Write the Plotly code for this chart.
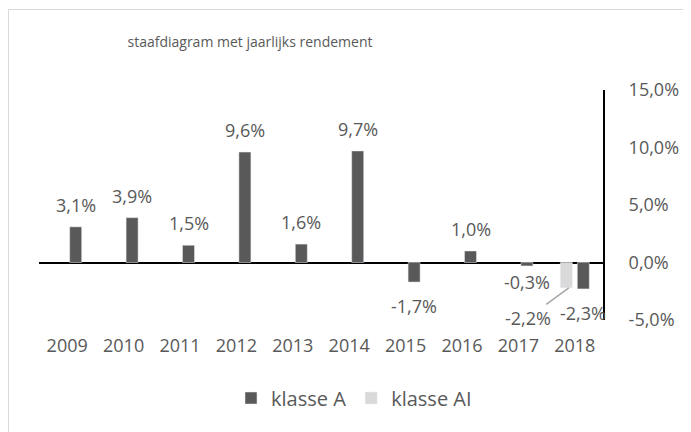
import plotly.graph_objects as go

years = ["2009", "2010", "2011", "2012", "2013", "2014", "2015", "2016", "2017", "2018"]
klasse_a = [3.1, 3.9, 1.5, 9.6, 1.6, 9.7, -1.7, 1.0, -0.3, -2.3]
klasse_ai = [None, None, None, None, None, None, None, None, None, -2.2]
y_tickvals = [-5, 0, 5, 10, 15]
y_ticktext = ["-5,0%", "0,0%", "5,0%", "10,0%", "15,0%"]

DARK = "#595959"
LIGHT = "#d9d9d9"
TXT = "#595959"
FONT = "Open Sans"

def fmt(v):
    return f"{v:.1f}%".replace(".", ",")

fig = go.Figure()
# klasse AI first so that it takes the left slot in each group
fig.add_trace(go.Bar(name="klasse AI", x=years, y=klasse_ai, marker_color=LIGHT,
                     hoverinfo="skip"))
fig.add_trace(go.Bar(name="klasse A", x=years, y=klasse_a, marker_color=DARK,
                     hoverinfo="skip"))

# data labels for klasse A (x given as category index)
label_nudge = {"2017": 8}
for i, (yr, v) in enumerate(zip(years, klasse_a)):
    shift = 22 if v >= 0 else -24
    shift += label_nudge.get(yr, 0)
    fig.add_annotation(x=i, y=v, text=fmt(v), showarrow=False, xshift=8.5,
                       yshift=shift, font=dict(family=FONT, size=18, color=TXT))

# data label for klasse AI with leader line
for i, v in enumerate(klasse_ai):
    if v is None:
        continue
    fig.add_annotation(x=i, y=v, text=fmt(v), showarrow=True, arrowhead=0,
                       arrowwidth=1.5, arrowcolor="#a6a6a6", xshift=-6,
                       ax=-41, ay=30, font=dict(family=FONT, size=18, color=TXT))

# page body has an 8px default margin: work in picture pixels minus OFF
OFF = 8
W, H = 691, 432
pw, ph = 564, 230
L = 39 - OFF
T = 90 - OFF
R = W - L - pw
B = H - T - ph

def px_x(x):  # picture x -> paper
    return (x - OFF - L) / pw

def px_y(y):  # picture y -> paper
    return (T + ph - (y - OFF)) / ph

# outer chart border (light gray)
fig.add_shape(type="rect", xref="paper", yref="paper",
              x0=px_x(OFF + 0.5), x1=px_x(W + 20), y0=px_y(H + 20), y1=px_y(9.5),
              line=dict(color=LIGHT, width=1), fillcolor="rgba(0,0,0,0)", layer="below")

fig.update_layout(
    width=W, height=H,
    margin=dict(l=L, r=R, t=T, b=B, autoexpand=False),
    paper_bgcolor="white", plot_bgcolor="white",
    barmode="group", bargap=0.397, bargroupgap=0.294,
    title=dict(text="staafdiagram met jaarlijks rendement", x=(250 - OFF) / W,
               xanchor="center", y=1 - (42 - OFF) / H, yanchor="middle",
               font=dict(family=FONT, size=14, color=TXT)),
    showlegend=True,
    legend=dict(orientation="h", x=px_x(231), xanchor="left",
                y=px_y(398), yanchor="middle",
                font=dict(family=FONT, size=20, color=TXT), traceorder="reversed"),
    font=dict(family=FONT, color=TXT),
)
fig.update_xaxes(type="category", range=[-0.5, len(years) - 0.5], showline=False,
                 showgrid=False, ticks="", zeroline=False,
                 tickfont=dict(family=FONT, size=18, color=TXT), ticklabelstandoff=13)
fig.update_yaxes(range=[-5, 15], side="right", showline=True, linecolor="black",
                 linewidth=2, showgrid=False, zeroline=True, zerolinecolor="black",
                 zerolinewidth=2, ticks="", tickvals=y_tickvals, ticktext=y_ticktext,
                 tickfont=dict(family=FONT, size=18, color=TXT), ticklabelstandoff=20)

fig.write_html("out.html")
